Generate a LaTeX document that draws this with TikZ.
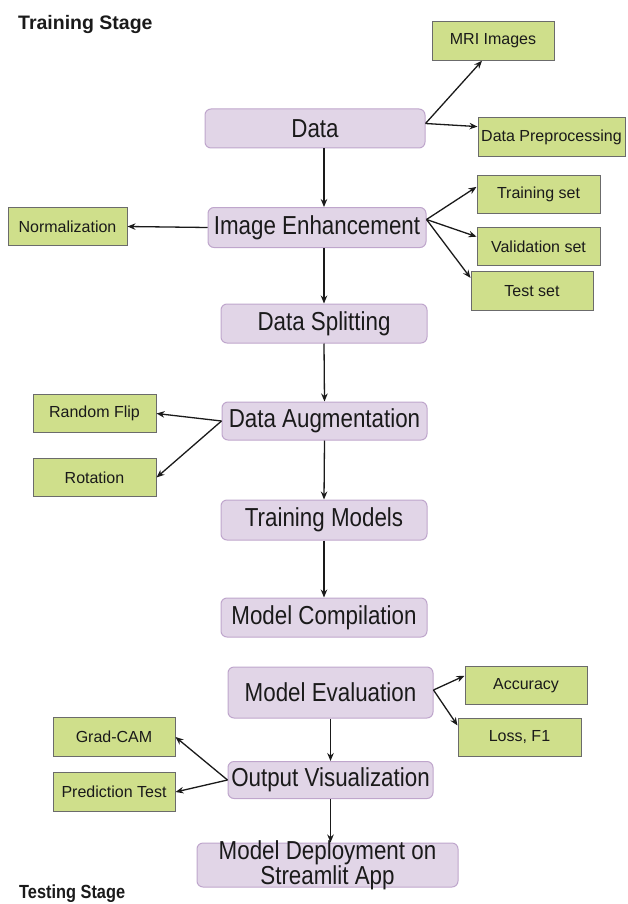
\documentclass[tikz,border=0pt]{standalone}
\usepackage{fontspec}
\setmainfont{Liberation Sans}
\newfontfamily\procfont[FakeStretch=0.86]{Liberation Sans}
\usepackage{xcolor}
\definecolor{procfill}{HTML}{E1D5E7}
\definecolor{procline}{HTML}{BFA6CC}
\definecolor{leaffill}{HTML}{CFDF8B}
\definecolor{leafline}{HTML}{6B6B6B}
\definecolor{inkgray}{HTML}{1A1A1A}
\usetikzlibrary{arrows.meta}

\begin{document}
\begin{tikzpicture}[x=1pt,y=-1pt,
  proc/.style={draw=procline,fill=procfill,line width=1pt,rounded corners=6pt,
               inner sep=0pt,align=center,text=inkgray,
               font=\procfont\fontsize{26}{23}\selectfont},
  leaf/.style={draw=leafline,fill=leaffill,line width=1pt,inner sep=0pt,
               minimum width=122pt,minimum height=38.5pt,text=inkgray,
               font=\fontsize{16}{18}\selectfont},
  stage/.style={anchor=base west,inner sep=0pt,text=inkgray},
  link/.style={-{Stealth[length=8pt,width=6.5pt]},line width=1.3pt,inkgray}]
  \useasboundingbox (0,0) rectangle (627,904);

  \node[stage,font=\fontsize{19.5}{21}\selectfont\bfseries] (train) at (18,30) {Training Stage};
  \node[stage,font=\procfont\fontsize{19}{21}\selectfont\bfseries] (test) at (19,898) {Testing Stage};

  \node[proc,minimum width=220pt,minimum height=39pt] (data) at (315,128.5) {Data};
  \node[proc,minimum width=218pt,minimum height=40pt] (ie) at (317,227.5) {Image Enhancement};
  \node[proc,minimum width=206pt,minimum height=39pt] (ds) at (324,323.5) {Data Splitting};
  \node[proc,minimum width=205pt,minimum height=38pt] (da) at (324.5,421) {Data Augmentation};
  \node[proc,minimum width=206pt,minimum height=40pt] (tm) at (324,520) {Training Models};
  \node[proc,minimum width=206pt,minimum height=39pt] (mc) at (324,617.5) {Model Compilation};
  \node[proc,minimum width=205pt,minimum height=51pt] (me) at (330.5,692.5) {Model Evaluation};
  \node[proc,minimum width=205pt,minimum height=37pt] (ov) at (330.5,780) {Output Visualization};
  \node[proc,minimum width=261pt,minimum height=44pt,text height=38.7pt,text depth=0pt]
    (md) at (327.5,865) {Model Deployment on\\Streamlit App};

  \node[leaf] (mri) at (493,41) {MRI Images};
  \node[leaf,minimum width=147pt] (dp) at (551.5,137) {Data Preprocessing};
  \node[leaf,minimum width=119pt] (norm) at (67.5,226.5) {Normalization};
  \node[leaf,minimum width=123pt] (trs) at (538.5,194.5) {Training set};
  \node[leaf,minimum width=123pt] (vs) at (538.5,246.5) {Validation set};
  \node[leaf] (tes) at (532,291) {Test set};
  \node[leaf,minimum width=123pt] (rf) at (94.5,413.5) {Random Flip};
  \node[leaf,minimum width=123pt] (rot) at (94.5,477.5) {Rotation};
  \node[leaf] (acc) at (526,685.5) {Accuracy};
  \node[leaf,minimum width=123pt] (loss) at (519.5,737.5) {Loss, F1};
  \node[leaf] (gc) at (114,737) {Grad-CAM};
  \node[leaf] (pt) at (114,792) {Prediction Test};

  \draw[link] ([yshift=5pt]data.east) -- ([xshift=-11pt]mri.south);
  \draw[link] ([yshift=5pt]data.east) -- (dp.172);
  \draw[link] (data.south -| ds.north) -- (ie.north -| ds.north);
  \draw[link] (ie.west) -- (norm.east);
  \draw[link] ([yshift=8pt]ie.east) -- (trs.173);
  \draw[link] ([yshift=8pt]ie.east) -- (vs.171);
  \draw[link] ([yshift=8pt]ie.east) -- (tes.168);
  \draw[link] (ie.south -| ds.north) -- (ds.north);
  \draw[link] (ds.south) -- (da.north);
  \draw[link] (da.west) -- (rf.east);
  \draw[link] (da.west) -- (rot.east);
  \draw[link] (da.south) -- (tm.north);
  \draw[link] (tm.south) -- (mc.north);
  \draw[link] ([yshift=2.5pt]me.east) -- (acc.171);
  \draw[link] ([yshift=2.5pt]me.east) -- (loss.169);
  \draw[link] (me.south) -- (ov.north);
  \draw[link] (ov.west) -- (gc.east);
  \draw[link] (ov.west) -- (pt.east);
  \draw[link] (ov.south) -- (ov.south |- md.north);
\end{tikzpicture}
\end{document}
